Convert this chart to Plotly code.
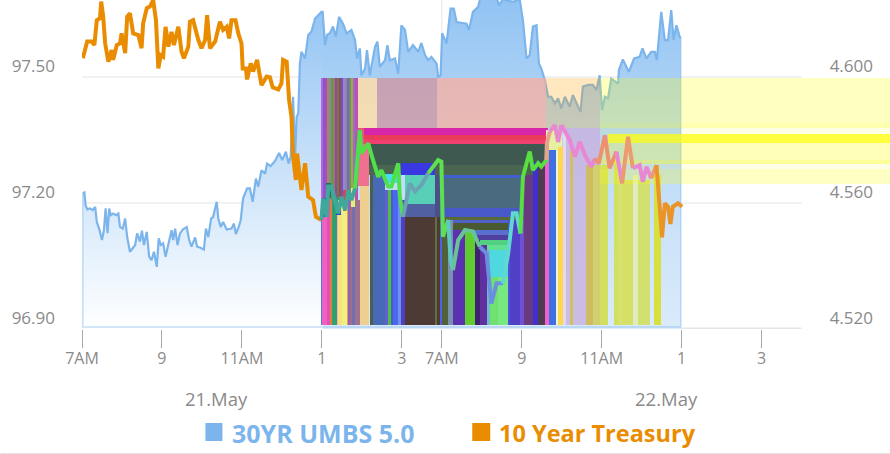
import plotly.graph_objects as go

# ---------- data ----------
hour_ticks = [7, 9, 11, 13, 15, 16, 18, 20, 22, 24]
hour_labels = ["7AM", "9", "11AM", "1", "3", "7AM", "9", "11AM", "1", "3"]
price_ticks = [96.9, 97.2, 97.5]
price_labels = ["96.90", "97.20", "97.50"]
yield_ticks = [4.52, 4.56, 4.60]
yield_labels = ["4.520", "4.560", "4.600"]
series_names = ["30YR UMBS 5.0", "10 Year Treasury"]
day_labels = ["21.May", "22.May"]
day_hours = [10.375, 21.625]

umbs_hours = [7.02,7.06,7.09,7.13,7.20,7.27,7.33,7.37,7.43,7.50,7.55,7.59,7.64,7.68,7.72,7.78,7.85,7.91,7.95,8.02,8.08,8.13,8.20,8.27,8.33,8.38,8.45,8.50,8.55,8.62,8.68,8.74,8.80,8.87,8.92,8.97,9.03,9.09,9.16,9.24,9.28,9.33,9.39,9.45,9.52,9.62,9.68,9.74,9.83,9.88,9.95,10.05,10.10,10.16,10.23,10.28,10.37,10.41,10.47,10.53,10.62,10.74,10.80,10.85,10.92,10.97,11.03,11.13,11.20,11.27,11.35,11.41,11.49,11.58,11.63,11.72,11.83,11.93,12.01,12.10,12.17,12.22,12.28,12.33,12.37,12.41,12.45,12.49,12.58,12.66,12.74,12.83,12.91,12.99,13.02,13.08,13.13,13.20,13.28,13.35,13.43,13.53,13.62,13.74,13.83,13.88,13.95,13.99,14.08,14.13,14.20,14.33,14.39,14.45,14.58,14.64,14.70,14.83,14.91,14.99,15.08,15.16,15.28,15.41,15.49,15.58,15.66,15.74,15.87,15.91,15.97,16.01,16.12,16.22,16.30,16.37,16.62,16.68,16.78,16.91,16.97,17.37,17.43,17.53,17.78,17.95,18.03,18.12,18.20,18.28,18.37,18.43,18.49,18.58,18.66,18.74,18.83,18.91,18.99,19.08,19.20,19.28,19.41,19.47,19.53,19.66,19.78,19.87,19.95,20.01,20.08,20.16,20.24,20.41,20.43,20.53,20.68,20.81,20.95,21.02,21.12,21.24,21.33,21.38,21.49,21.58,21.66,21.74,21.80,21.87,21.95,21.98]
umbs_price = [97.223,97.225,97.195,97.185,97.187,97.183,97.191,97.155,97.139,97.112,97.136,97.187,97.128,97.187,97.171,97.175,97.171,97.175,97.143,97.139,97.163,97.119,97.084,97.092,97.100,97.128,97.108,97.134,97.100,97.131,97.072,97.064,97.084,97.048,97.116,97.100,97.104,97.072,97.100,97.135,97.112,97.139,97.100,97.127,97.137,97.143,97.112,97.096,97.118,97.096,97.094,97.089,97.139,97.119,97.163,97.167,97.203,97.163,97.143,97.155,97.137,97.139,97.151,97.126,97.143,97.159,97.211,97.235,97.235,97.203,97.258,97.239,97.278,97.270,97.294,97.288,97.300,97.319,97.302,97.322,97.294,97.310,97.453,97.310,97.405,97.413,97.532,97.560,97.544,97.600,97.608,97.639,97.647,97.655,97.655,97.576,97.600,97.604,97.620,97.596,97.643,97.627,97.604,97.612,97.588,97.544,97.568,97.504,97.520,97.564,97.504,97.572,97.584,97.524,97.540,97.576,97.540,97.544,97.508,97.623,97.612,97.560,97.576,97.560,97.581,97.552,97.540,97.548,97.532,97.500,97.504,97.604,97.580,97.663,97.663,97.631,97.627,97.612,97.655,97.667,97.690,97.690,97.671,97.685,97.679,97.685,97.635,97.544,97.552,97.620,97.623,97.532,97.520,97.492,97.453,97.453,97.437,97.449,97.425,97.453,97.429,97.457,97.429,97.417,97.477,97.481,97.481,97.469,97.504,97.421,97.453,97.449,97.496,97.484,97.516,97.542,97.512,97.544,97.548,97.568,97.544,97.560,97.560,97.540,97.655,97.588,97.588,97.659,97.588,97.623,97.596,97.592]

tsy_hours = [7.02,7.08,7.13,7.24,7.31,7.37,7.45,7.48,7.53,7.58,7.66,7.74,7.78,7.87,7.95,7.99,8.08,8.13,8.20,8.28,8.41,8.49,8.53,8.62,8.70,8.78,8.85,8.91,8.97,9.03,9.09,9.16,9.24,9.30,9.41,9.49,9.55,9.66,9.70,9.78,9.91,9.99,10.08,10.13,10.20,10.33,10.45,10.53,10.62,10.68,10.74,10.84,10.91,10.99,11.02,11.10,11.13,11.22,11.28,11.38,11.49,11.62,11.70,11.77,11.91,11.99,12.03,12.12,12.18,12.24,12.28,12.35,12.38,12.49,12.58,12.66,12.78,12.85,12.99,13.03,13.12,13.16,13.24,13.30,13.41,13.49,13.58,13.66,13.74,13.83,13.95,13.99,14.16,14.28,14.41,14.49,14.66,14.74,14.91,14.95,15.03,15.20,15.33,15.49,15.66,15.91,15.99,16.03,16.16,16.22,16.28,16.41,16.58,16.78,16.95,17.12,17.24,17.37,17.53,17.66,17.78,17.87,17.97,18.03,18.20,18.28,18.41,18.49,18.62,18.63,18.70,18.83,18.91,18.99,19.08,19.20,19.33,19.45,19.58,19.74,19.83,19.93,20.08,20.20,20.37,20.51,20.66,20.78,20.95,21.03,21.12,21.24,21.37,21.45,21.51,21.58,21.66,21.72,21.78,21.91,22.01]
tsy_yield = [4.6059,4.6091,4.6112,4.6112,4.6101,4.6180,4.6186,4.6239,4.6191,4.6106,4.6048,4.6085,4.6054,4.6101,4.6106,4.6138,4.6075,4.6191,4.6202,4.6138,4.6133,4.6091,4.6170,4.6218,4.6223,4.6244,4.6180,4.6027,4.6069,4.6064,4.6159,4.6096,4.6143,4.6101,4.6159,4.6080,4.6059,4.6096,4.6175,4.6180,4.6117,4.6091,4.6117,4.6196,4.6091,4.6112,4.6175,4.6149,4.6159,4.6122,4.6180,4.6180,4.6138,4.6106,4.6027,4.6027,4.5992,4.6043,4.6017,4.6054,4.5974,4.6001,4.5999,4.5967,4.5960,4.5979,4.6054,4.6048,4.5927,4.5874,4.5747,4.5673,4.5757,4.5641,4.5726,4.5620,4.5609,4.5556,4.5546,4.5614,4.5556,4.5652,4.5652,4.5620,4.5567,4.5620,4.5577,4.5641,4.5609,4.5646,4.5831,4.5757,4.5789,4.5736,4.5683,4.5704,4.5652,4.5652,4.5726,4.5620,4.5556,4.5662,4.5636,4.5657,4.5694,4.5736,4.5731,4.5493,4.5546,4.5419,4.5387,4.5482,4.5514,4.5509,4.5461,4.5440,4.5281,4.5345,4.5345,4.5440,4.5567,4.5567,4.5503,4.5683,4.5763,4.5704,4.5726,4.5715,4.5736,4.5789,4.5826,4.5847,4.5794,4.5847,4.5826,4.5800,4.5747,4.5794,4.5752,4.5715,4.5741,4.5726,4.5815,4.5710,4.5763,4.5662,4.5810,4.5710,4.5720,4.5667,4.5715,4.5678,4.5720,4.5599,4.5491,4.5599,4.5588,4.5533,4.5588,4.5599,4.5588]

# where the treasury line changes tint as it crosses the coloured blocks
tint_start = [7.00,13.00,13.95,15.05,15.80,16.20,16.40,17.10,17.60,18.00,18.63,18.80,19.00,19.90,20.50,20.58,20.90,21.30,21.42]
tint_end   = [13.00,13.95,15.05,15.80,16.20,16.40,17.10,17.60,18.00,18.63,18.80,19.00,19.90,20.50,20.58,20.90,21.30,21.42,22.01]
tint_color = ["#ea8c00","#3fa89a","#52e04a","#6aa4b4","#5fe050","#5fc8c0","#68c498","#6b8fe0","#60d8d0","#58e040","#e8a090","#e88ad0","#e888d4","#ec9270","#e888d4","#ec9a70","#e888d4","#ec9a70","#ea9428"]

# translucent blocks laid over the chart, in hours and price
block_left = [13.91,14.39,15.89,18.61,19.96,19.96,
              14.06,14.06,14.06,14.19,14.19,
              15.96,15.96,15.96,15.96,
              16.21,16.21,16.39,16.84,16.84,17.14,17.00,
              15.84,14.59,14.99,15.09,15.09,
              13.91,13.96,19.11,18.61,13.91,19.04]
block_right = [14.39,15.89,18.61,19.96,27.22,27.22,
               18.66,18.66,18.66,18.66,18.66,
               18.09,18.09,18.09,18.09,
               17.79,17.76,17.76,17.71,17.66,17.66,17.66,
               16.01,14.99,15.84,15.84,15.84,
               14.19,14.19,19.96,19.00,14.06,19.11]
block_low = [97.379,97.350,97.379,97.379,97.379,97.379,
             97.362,97.350,97.340,97.290,97.267,
             97.260,97.188,97.167,97.160,
             97.152,97.136,97.124,97.112,97.100,97.088,97.024,
             97.167,97.248,97.267,97.198,97.167,
             97.240,96.910,96.910,97.320,97.340,96.910]
block_high = [97.498,97.498,97.498,97.498,97.498,97.390,
              97.379,97.362,97.350,97.340,97.290,
              97.267,97.260,97.188,97.167,
              97.160,97.152,97.136,97.124,97.112,97.100,97.088,
              97.267,97.270,97.295,97.267,97.198,
              97.340,97.240,97.379,97.374,97.379,97.370]
block_color = ["rgba(254,221,168,.85)","rgba(210,143,152,.7)","rgba(253,171,152,.7)","rgba(255,165,0,.25)","rgba(255,255,0,.25)","rgba(255,255,0,.08)",
               "#d826a8","#ea3c58","#f04070","#3e5a50","#4a6650",
               "#4060d0","#4a6a80","#4858c8","#586a3a",
               "#5060c8","#4a5a30","#5a70d0","#5040a0","#50d080","#60e090","#50d8e0",
               "#4a4f88","#40e0f0","#3a38e0","#58d0b8","#5060a0",
               "#f07090","#efcf90","rgba(200,180,225,.85)","#e6f0a0","#e05a80","#e8d8ee"]

strip_left = [12.99,13.01,13.14,13.21,13.26,13.39,13.41,13.51,13.64,13.66,13.71,13.76,13.84,
              14.21,14.29,14.59,14.66,14.74,14.79,14.91,14.99,15.09,15.84,15.89,15.96,
              16.01,16.16,16.29,16.59,16.84,16.96,17.14,17.21,17.41,17.66,17.71,17.96,18.06,18.29,18.41,18.59,18.69,18.86,18.91,18.91,
              19.21,19.61,19.79,19.96,20.31,20.41,20.54,20.79,20.91,21.31]
strip_right = [13.01,13.14,13.21,13.26,13.39,13.41,13.51,13.64,13.66,13.71,13.76,13.84,13.96,
               14.29,14.59,14.66,14.74,14.79,14.91,14.99,15.09,15.84,15.89,15.96,16.01,
               16.16,16.29,16.59,16.84,16.96,17.14,17.21,17.41,17.66,17.71,17.96,18.06,18.29,18.41,18.59,18.69,18.86,18.91,19.04,19.04,
               19.29,19.79,19.96,20.16,20.41,20.54,20.79,20.91,21.21,21.49]
strip_high = [97.207,97.207,97.207,97.207,97.207,97.207,97.207,97.207,97.207,97.207,97.207,97.207,97.207,
              97.267,97.267,97.231,97.231,97.231,97.231,97.219,97.207,97.167,97.167,97.167,97.267,
              97.160,97.160,97.136,97.136,97.112,97.100,97.088,97.024,97.024,97.160,97.160,97.160,97.267,97.298,97.298,97.340,97.326,97.326,97.274,97.333,
              97.326,97.290,97.290,97.290,97.302,97.267,97.255,97.267,97.255,97.267]
strip_low = [96.910]*43 + [97.274] + [96.910]*11
strip_color = ["#5577dd","#f060c0","#e050b0","#e08040","#30a070","#f5b0b0","#f8e080","#f0f080","#e0a060","#9060c0","#a07080","#7070b0","#a07090",
               "#4a6048","#4868b8","#6060d0","#50c040","#5058d0","#4868f0","#7090f0","#5040c0","#4d3a34","#607040","#4d3a34","#5060e0",
               "#50603a","#7a90b0","#5a32b0","#60cc30","#402070","#6030a0","#70b8d0","#70e070","#78e880","#4a50d8","#5040c8","#7050d0","#6a3a80","#4030d0","#503c50","#f060d0","#4070e0","#e8f4e0","#10d060","#fbd850",
               "#d0c060","#d0bc60","#d0d070","#d2de60","#d0e060","#d6e26c","#d4e068","#e0ecc0","#d2e070","#d8e040"]

stripe_left = [12.99,13.04,13.09,13.14,13.19,13.24,13.29,13.34,13.39,13.44,13.49,13.54,13.59,13.64,13.69,13.74,13.79,13.84]
stripe_right = [13.04,13.09,13.14,13.19,13.24,13.29,13.34,13.39,13.44,13.49,13.54,13.59,13.64,13.69,13.74,13.79,13.84,13.91]
stripe_low = [97.205]*18
stripe_color = ["#c060e0","#7060d0","#c040c0","#909060","#a08090","#50a050","#908060","#a040a0","#5f7f50","#b04040","#5060d0","#c070d0","#60a0a0","#a050c0","#50a060","#b0a040","#9070d0","#c050b0"]

patch_left = [13.01,13.11,13.29,13.36,13.54,13.61,13.74]
patch_right = [13.14,13.24,13.41,13.49,13.61,13.79,13.84]
patch_low = [97.167,97.212,97.181,97.171,97.181,97.207,97.190]
patch_high = [97.212,97.248,97.212,97.195,97.231,97.231,97.236]
patch_color = ["#2050a0","#207060","#20a080","#2050d0","#e04050","#c060c0","#e0f080"]

band_low = [97.344,97.364,97.302,97.293,97.281,97.246]
band_high = [97.364,97.379,97.344,97.302,97.293,97.281]
band_left = [20.16,19.96,19.96,19.96,19.96,19.96]
band_alpha = [0.75,0.10,0.27,0.40,0.10,0.23]

# ---------- layout constants ----------
W, H = 890, 454
ML, MB = 81.5, 125
PLOT_W, PLOT_H = W - ML, H - MB
BLUE, ORANGE, GREY = "#7cb5ec", "#ea8c00", "#8a8a8a"
FONT = "Open Sans"
price_range = [96.9, 97.6833]
yield_range = [4.52, 4.6244]
hour_range = [7, 27.2125]

def px(x):
    return (x - ML) / PLOT_W

def py(y):
    return (PLOT_H - y) / PLOT_H

fig = go.Figure()

# blue area, with its pale outline
fig.add_trace(go.Scatter(x=umbs_hours, y=umbs_price, mode="lines", name=series_names[0], showlegend=False,
                         line=dict(color=BLUE, width=2.2), fill="tozeroy",
                         fillgradient=dict(type="vertical", start=price_range[0], stop=price_range[1],
                                           colorscale=[[0, "rgb(255,255,255)"], [1, "rgb(145,195,243)"]])))
i13 = next(i for i, h in enumerate(umbs_hours) if h >= 13)
fig.add_trace(go.Scatter(x=umbs_hours[i13:], y=umbs_price[i13:], mode="lines", showlegend=False,
                         line=dict(color="rgba(0,0,0,0)", width=0), fill="tozeroy",
                         fillgradient=dict(type="vertical", start=price_range[0], stop=price_range[1],
                                           colorscale=[[0, "rgba(124,181,236,.28)"], [1, "rgba(124,181,236,0)"]])))
fig.add_trace(go.Scatter(x=[umbs_hours[0], umbs_hours[0], umbs_hours[-1], umbs_hours[-1]],
                         y=[umbs_price[0], 96.905, 96.905, umbs_price[-1]], mode="lines", showlegend=False,
                         line=dict(color="rgba(124,181,236,.45)", width=1.5)))

def add_blocks(left, right, low, high, colors):
    fig.add_trace(go.Bar(x=[(a + b) / 2 for a, b in zip(left, right)],
                         width=[b - a for a, b in zip(left, right)],
                         base=low, y=[t - b for t, b in zip(high, low)],
                         marker=dict(color=colors, line=dict(width=0)),
                         yaxis="y2", showlegend=False, hoverinfo="skip"))

add_blocks(block_left, block_right, block_low, block_high, block_color)
add_blocks(stripe_left, stripe_right, stripe_low, [97.498] * len(stripe_left), stripe_color)
add_blocks(strip_left, strip_right, strip_low, strip_high, strip_color)
add_blocks(patch_left, patch_right, patch_low, patch_high, patch_color)
add_blocks(band_left, [27.22] * len(band_left), band_low, band_high,
           [f"rgba(255,255,0,{a})" for a in band_alpha])

# treasury line, tinted piece by piece
for n, (s, e, c) in enumerate(zip(tint_start, tint_end, tint_color)):
    idx = [i for i, h in enumerate(tsy_hours) if s <= h <= e]
    if idx[0] > 0:
        idx = [idx[0] - 1] + idx
    fig.add_trace(go.Scatter(x=[tsy_hours[i] for i in idx], y=[tsy_yield[i] for i in idx], mode="lines",
                             name=series_names[1], showlegend=False, yaxis="y3",
                             line=dict(color=c, width=4)))

shapes = []
for v in price_ticks[1:]:
    shapes.append(dict(type="line", xref="x", yref="y", x0=7, x1=25, y0=v, y1=v, layer="below",
                       line=dict(color="#ececec", width=1.5)))
shapes.append(dict(type="line", xref="x", yref="y", x0=7, x1=25, y0=96.9, y1=96.9, layer="below",
                   line=dict(color="#e6e6e6", width=3)))
shapes.append(dict(type="line", xref="x", yref="paper", x0=16, x1=16, y0=0, y1=1, layer="below",
                   line=dict(color="#e6e6e6", width=1)))
shapes.append(dict(type="rect", xref="paper", yref="paper", x0=px(205), x1=px(222), y0=py(441), y1=py(423),
                   fillcolor=BLUE, line=dict(width=0)))
shapes.append(dict(type="rect", xref="paper", yref="paper", x0=px(472), x1=px(490), y0=py(441), y1=py(423),
                   fillcolor=ORANGE, line=dict(width=0)))
shapes.append(dict(type="line", xref="paper", yref="paper", x0=px(0), x1=px(890), y0=py(453.5), y1=py(453.5),
                   line=dict(color="#e4e4e4", width=1)))

annotations = [dict(x=h, y=py(398), xref="x", yref="paper", text=t, showarrow=False,
                    font=dict(family=FONT, size=18.5, color=GREY), xanchor="center", yanchor="middle")
               for h, t in zip(day_hours, day_labels)]
annotations.append(dict(x=px(232), y=py(433), xref="paper", yref="paper", text=f"<b>{series_names[0]}</b>",
                        showarrow=False, font=dict(family=FONT, size=25, color=BLUE),
                        xanchor="left", yanchor="middle", xshift=-2))
annotations.append(dict(x=px(499), y=py(433), xref="paper", yref="paper", text=f"<b>{series_names[1]}</b>",
                        showarrow=False, font=dict(family=FONT, size=23.5, color=ORANGE),
                        xanchor="left", yanchor="middle", xshift=-2))

tick_font = dict(family=FONT, size=16, color=GREY)
y_font = dict(family=FONT, size=17, color=GREY)
fig.update_layout(
    width=W, height=H, autosize=False,
    margin=dict(l=ML, r=0, t=0, b=MB, pad=0),
    paper_bgcolor="white", plot_bgcolor="white", barmode="overlay", bargap=0,
    showlegend=False, shapes=shapes, annotations=annotations,
    xaxis=dict(range=hour_range, tickmode="array", tickvals=hour_ticks, ticktext=hour_labels,
               ticks="outside", ticklen=18, tickcolor="#a8a8a8", tickwidth=1, tickfont=tick_font,
               showgrid=False, zeroline=False, showline=False, ticklabelstandoff=-3),
    yaxis=dict(range=price_range, tickmode="array", tickvals=price_ticks, ticktext=price_labels,
               tickfont=y_font, ticks="", showgrid=False, zeroline=False, showline=False,
               ticklabelshift=-11, ticklabelstandoff=26),
    yaxis2=dict(range=price_range, overlaying="y", visible=False),
    yaxis3=dict(range=yield_range, overlaying="y", side="right", tickmode="array", tickvals=yield_ticks,
                ticktext=yield_labels, tickfont=y_font, ticks="", showgrid=False, zeroline=False,
                showline=False, ticklabelposition="inside", ticklabelshift=-11, ticklabelstandoff=14),
)

fig.write_html("out.html", config=dict(displayModeBar=False),
               post_script="document.body.style.margin='0';document.body.style.overflow='hidden';")
